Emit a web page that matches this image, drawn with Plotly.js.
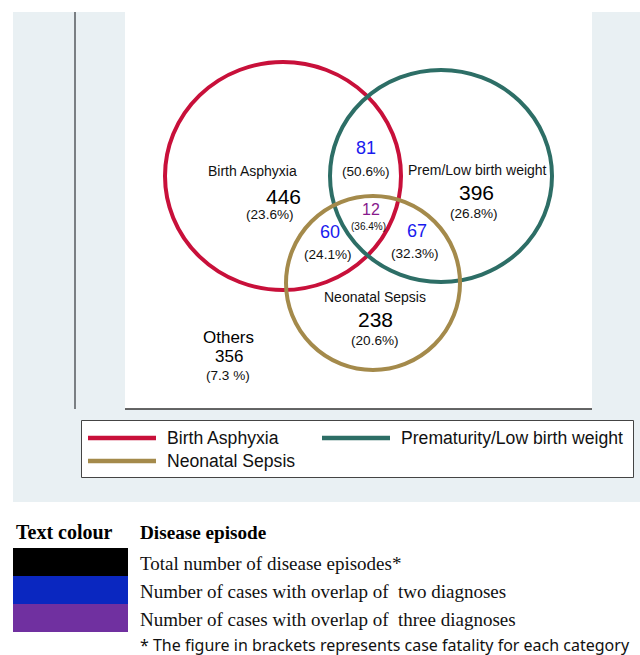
<!DOCTYPE html>
<html>
<head>
<meta charset="utf-8">
<script src="https://cdn.plot.ly/plotly-3.0.1.min.js"></script>
<style>html,body{margin:0;padding:0;background:#fff;}#chart{width:640px;height:655px;}</style>
</head>
<body>
<div id="chart"></div>
<script>
// ---- data ----
var sets = ["Birth Asphyxia", "Prem/Low birth weight", "Neonatal Sepsis"];
var legendNames = ["Birth Asphyxia", "Prematurity/Low birth weight", "Neonatal Sepsis"];
var setColors = ["#c8103a", "#2d6e66", "#a48a4b"];
var singleCounts = [446, 396, 238];
var singleCFR = ["(23.6%)", "(26.8%)", "(20.6%)"];
var pairNames = ["Asphyxia+Prem", "Asphyxia+Sepsis", "Prem+Sepsis"];
var pairCounts = [81, 60, 67];
var pairCFR = ["(50.6%)", "(24.1%)", "(32.3%)"];
var tripleCount = 12;
var tripleCFR = "(36.4%)";
var othersCount = 356;
var othersCFR = "(7.3 %)";
var keyColors = ["#000000", "#0a27c0", "#7030a0"];
var keyLabels = ["Total number of disease episodes*",
                 "Number of cases with overlap of  two diagnoses",
                 "Number of cases with overlap of  three diagnoses"];
var footnote = "* The figure in brackets represents case fatality for each category";

// ---- layout geometry (pixel-like coordinates) ----
var circ = [ {cx:283, cy:176, rx:118, ry:114},
             {cx:441, cy:176, rx:111, ry:106},
             {cx:373, cy:283, rx:87,  ry:87} ];
var nameLab = [[252,171],[477,170],[375,297]];
var countLab = [[283,196],[476,192],[375,319]];
var cfrLab = [[270,214],[474,213],[375,340]];
var pairLab = [[366,148],[330,232],[417,231]];
var pairCfrLab = [[366,171],[328,254],[415,253]];

var SANS = "Liberation Sans, Arial, sans-serif";
var SERIF = "Liberation Serif, Times New Roman, serif";
var BLUE = "#1a1aee", PURPLE = "#87198c";

var shapes = [];
var ann = [];
function A(x,y,text,size,color,extra){
  var o = {x:x,y:y,xref:'x',yref:'y',text:text,showarrow:false,
           font:{family:SANS,size:size,color:color||'#111'},xanchor:'center',yanchor:'middle'};
  if(extra) for(var k in extra) o[k]=extra[k];
  ann.push(o);
}
// backgrounds
shapes.push({type:'rect',xref:'x',yref:'y',x0:13,x1:640,y0:12,y1:502,fillcolor:'#e9f0f3',line:{width:0},layer:'below'});
shapes.push({type:'rect',xref:'x',yref:'y',x0:125,x1:592,y0:12,y1:409,fillcolor:'#ffffff',line:{width:0},layer:'below'});
// axis lines
shapes.push({type:'line',xref:'x',yref:'y',x0:75,x1:75,y0:12,y1:409,line:{color:'#7a7f83',width:2}});
shapes.push({type:'line',xref:'x',yref:'y',x0:125,x1:592,y0:409,y1:409,line:{color:'#333',width:1.3}});
// circles
for(var i=0;i<3;i++){
  var c=circ[i];
  shapes.push({type:'circle',xref:'x',yref:'y',x0:c.cx-c.rx,x1:c.cx+c.rx,y0:c.cy-c.ry,y1:c.cy+c.ry,
               line:{color:setColors[i],width:4}});
  A(nameLab[i][0],nameLab[i][1],sets[i],14,'#111');
  A(countLab[i][0],countLab[i][1],String(singleCounts[i]),21,'#000');
  A(cfrLab[i][0],cfrLab[i][1],singleCFR[i],13.6,'#111');
  A(pairLab[i][0],pairLab[i][1],String(pairCounts[i]),18,BLUE);
  A(pairCfrLab[i][0],pairCfrLab[i][1],pairCFR[i],13.6,'#111');
}
A(371,209.5,String(tripleCount),16,PURPLE);
A(368,226.5,tripleCFR,10,'#111');
A(228,337,"Others",17,'#000');
A(229,356,String(othersCount),17,'#000');
A(228,375,othersCFR,13.6,'#111');

// legend box
shapes.push({type:'rect',xref:'x',yref:'y',x0:81.5,x1:633.5,y0:420.5,y1:477.5,fillcolor:'#ffffff',line:{color:'#444',width:1}});
var legPos = [[88,438],[322,438],[88,461]];
for(var j=0;j<3;j++){
  var lp=legPos[j];
  shapes.push({type:'line',xref:'x',yref:'y',x0:lp[0],x1:lp[0]+68,y0:lp[1],y1:lp[1],line:{color:setColors[j],width:4.5}});
  A(lp[0]+77,lp[1],legendNames[j],17.6,'#111',{xanchor:'left'});
}

// text colour key
A(14,532,"<b>Text colour</b>",20,'#000',{xanchor:'left',font:{family:SERIF,size:20,color:'#000'}});
A(138,532,"<b>Disease episode</b>",19.5,'#000',{xanchor:'left',font:{family:SERIF,size:19.2,color:'#000'}});
for(var k=0;k<3;k++){
  var y0=548+k*28;
  shapes.push({type:'rect',xref:'x',yref:'y',x0:13,x1:128,y0:y0,y1:y0+28,fillcolor:keyColors[k],line:{width:0}});
  A(138,y0+15,keyLabels[k],19,'#000',{xanchor:'left',font:{family:SERIF,size:19,color:'#111'}});
}
A(138,645,footnote,16,'#111',{xanchor:'left',font:{family:"Noto Sans, Calibri, sans-serif",size:16,color:'#111'}});

var layout = {
  width:640,height:655,margin:{l:0,r:0,t:0,b:0},
  paper_bgcolor:'#ffffff',plot_bgcolor:'rgba(0,0,0,0)',
  xaxis:{range:[0,640],visible:false,fixedrange:true},
  yaxis:{range:[655,0],visible:false,fixedrange:true},
  shapes:shapes,annotations:ann,showlegend:false
};
Plotly.newPlot('chart',[{x:[],y:[],type:'scatter'}],layout,{staticPlot:true});
</script>
</body>
</html>
